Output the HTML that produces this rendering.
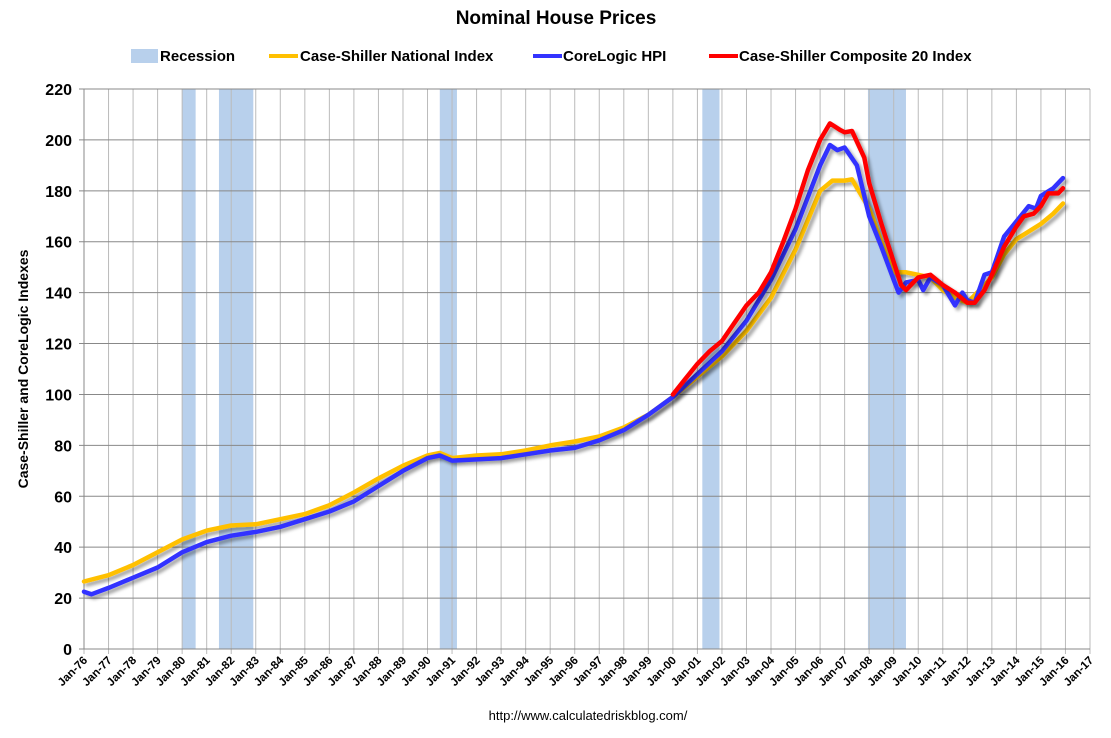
<!DOCTYPE html>
<html><head><meta charset="utf-8"><style>
body{margin:0;background:#fff;font-family:"Liberation Sans",sans-serif}
svg text{font-family:"Liberation Sans",sans-serif}
</style></head><body>
<svg id="chart" width="1111" height="733" xmlns="http://www.w3.org/2000/svg">
<defs><filter id="sh" x="-5%" y="-5%" width="110%" height="110%"><feDropShadow dx="3" dy="3" stdDeviation="1.5" flood-color="#000" flood-opacity="0.35"/></filter></defs>
<text x="556" y="24" text-anchor="middle" font-size="19" font-weight="bold">Nominal House Prices</text>
<g font-size="15" font-weight="bold">
<rect x="131" y="49" width="27" height="14" fill="#b8d0ec"/>
<text x="160" y="61">Recession</text>
<line x1="269" y1="56" x2="298" y2="56" stroke="#ffc000" stroke-width="4"/>
<text x="300" y="61">Case-Shiller National Index</text>
<line x1="533" y1="56" x2="562" y2="56" stroke="#3333ff" stroke-width="4"/>
<text x="563" y="61">CoreLogic HPI</text>
<line x1="709" y1="56" x2="738" y2="56" stroke="#ff0000" stroke-width="4"/>
<text x="739" y="61">Case-Shiller Composite 20 Index</text>
</g>
<g id="plot"></g>
<text transform="translate(28,369) rotate(-90)" text-anchor="middle" font-size="14" font-weight="bold">Case-Shiller and CoreLogic Indexes</text>
<text x="588" y="720" text-anchor="middle" font-size="13">http://www.calculatedriskblog.com/</text>
</svg>
<script>
const recessions=[[1980.0,1980.55],[1981.5,1982.9],[1990.5,1991.2],[2001.2,2001.9],[2007.95,2009.5]];
const yTicks=[0,20,40,60,80,100,120,140,160,180,200,220];
const nationalX=[1976,1977,1978,1979,1980,1981,1982,1983,1984,1985,1986,1987,1988,1989,1990,1990.5,1991,1992,1993,1994,1995,1996,1997,1998,1999,2000,2001,2002,2003,2004,2005,2006,2006.5,2007,2007.3,2008,2008.5,2009,2009.5,2010,2010.5,2011,2011.5,2012,2012.5,2013,2013.5,2014,2014.5,2015,2015.5,2015.9];
const nationalY=[26.5,29,33,38,43,46.5,48.5,49,51,53,56.5,61.5,67,72,76,77,75,76,76.5,78,80,81.5,83.5,87,92,99,107,115,125,138,157,180,184,184,184.5,173,160,148,148,147,146,141,138,136,141,146,155,161,164,167,171,175];
const corelogicX=[1976,1976.3,1977,1978,1979,1980,1981,1982,1983,1984,1985,1986,1987,1988,1989,1990,1990.5,1991,1992,1993,1994,1995,1996,1997,1998,1999,2000,2001,2002,2003,2004,2005,2006,2006.4,2006.7,2007,2007.5,2008,2008.5,2009,2009.2,2009.5,2010,2010.2,2010.5,2011,2011.5,2011.8,2012,2012.3,2012.7,2013,2013.5,2014,2014.5,2014.8,2015,2015.5,2015.9];
const corelogicY=[22.5,21.5,24,28,32,38,42,44.5,46,48,51,54,58,64,70,75,76,74,74.5,75,76.5,78,79,82,86,92,99,108,117,129,145,165,190,198,196,197,190,170,158,145,140,144,145,141,146,143,135,140,137,136,147,148,162,168,174,173,178,181,185];
const cs20X=[2000,2000.5,2001,2001.5,2002,2002.5,2003,2003.5,2004,2004.5,2005,2005.5,2006,2006.4,2006.8,2007,2007.3,2007.8,2008,2008.5,2009,2009.3,2009.5,2010,2010.5,2011,2011.5,2012,2012.3,2012.7,2013,2013.5,2014,2014.3,2014.7,2015,2015.3,2015.7,2015.9];
const cs20Y=[100,106,112,117,121,128,135,140,148,160,173,188,200,206.5,204,203,203.5,193,183,167,152,143,141,146,147,143,140,136,136,141,147,158,166,170,171,174,179,179,181];
const X0=84,X1=1090,Y0=649,Y1=89,YR0=1976,YR1=2017;
const xs=v=>X0+(v-YR0)/(YR1-YR0)*(X1-X0);
const ys=v=>Y0-v/220*(Y0-Y1);
const NS="http://www.w3.org/2000/svg";
const g=document.getElementById('plot');
function mk(t,a){const e=document.createElementNS(NS,t);for(const k in a)e.setAttribute(k,a[k]);g.appendChild(e);return e;}
for(const r of recessions){const e=mk('rect',{x:xs(r[0]),y:Y1,width:xs(r[1])-xs(r[0]),height:Y0-Y1,fill:'#b8d0ec'});

}
for(let yr=YR0;yr<=YR1;yr++){const e=mk('line',{x1:xs(yr),x2:xs(yr),y1:Y1,y2:Y0+5,stroke:'#bbb','stroke-width':1});


const t=mk('text',{transform:`translate(${xs(yr)+4},${Y0+12}) rotate(-45)`,'text-anchor':'end','font-size':11.5,'font-weight':'bold'});
t.textContent='Jan-'+String(yr%100).padStart(2,'0');

}
for(const v of yTicks){const e=mk('line',{x1:X0-5,x2:X1,y1:ys(v),y2:ys(v),stroke:'#888','stroke-width':1});


const t=mk('text',{x:X0-12,y:ys(v)+6,'text-anchor':'end','font-size':16,'font-weight':'bold'});t.textContent=v;

}
const ax=mk('line',{x1:X0,x2:X0,y1:Y1,y2:Y0,stroke:'#888'});


function line(xa,ya,c,n){const d=xa.map((x,i)=>(i?'L':'M')+xs(x).toFixed(1)+','+ys(ya[i]).toFixed(1)).join('');
const p=mk('path',{d:d,fill:'none',stroke:c,'stroke-width':4.5,'stroke-linejoin':'round','stroke-linecap':'round',filter:'url(#sh)'});

}
line(nationalX,nationalY,'#ffc000','series-case-shiller-national');
line(corelogicX,corelogicY,'#3333ff','series-corelogic-hpi');
line(cs20X,cs20Y,'#ff0000','series-case-shiller-composite-20');
</script>
</body></html>
